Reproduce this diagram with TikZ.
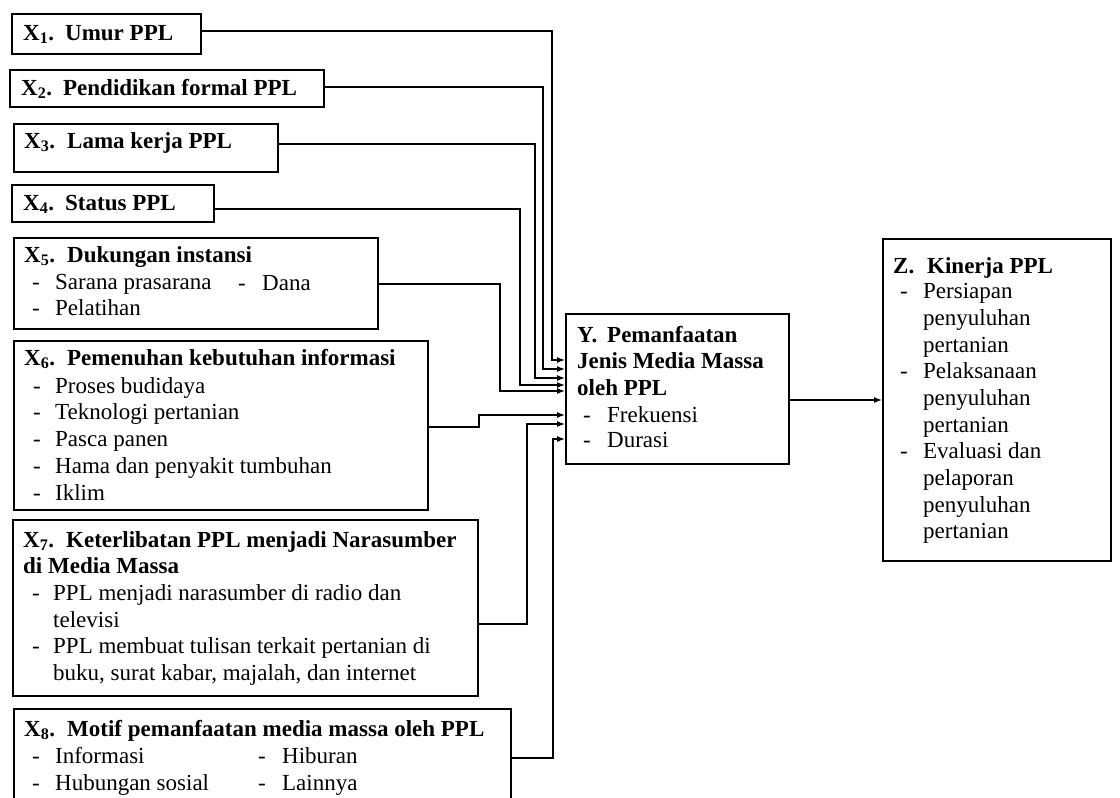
\documentclass[tikz,border=0pt]{standalone}
\usepackage{fontspec}
\setmainfont{Liberation Serif}
\usetikzlibrary{arrows.meta}
\tikzset{
  box/.style={draw, line width=1.6pt, inner sep=0pt, anchor=north west},
  conn/.style={line width=1.3pt, -{Latex[length=8pt,width=6pt]}},
  txt/.style={anchor=base west, inner sep=0pt, font=\fontsize{23}{27}\selectfont},
  txtb/.style={txt, font=\fontsize{23}{27}\selectfont\bfseries},
}
\newcommand{\ttl}[5]{\node[txtb] (#1) at (#2,#3) {\makebox[#4pt][l]{#5}};}
\newcommand{\boxline}[4]{\node[txt] (#1) at (#2,#3) {#4};}
\newcommand{\boldline}[4]{\node[txtb] (#1) at (#2,#3) {#4};}
\newcommand{\itemline}[5]{\node[txt] (#1) at (#2,#3) {\makebox[#4pt][l]{-}#5};}
\begin{document}
\begin{tikzpicture}[x=1pt,y=-1pt]
\useasboundingbox (0,0) rectangle (1120,798);
\clip (0,0) rectangle (1120,798);

% boxes
\node[box, minimum width=189pt, minimum height=40pt] (x1) at (11,13) {};
\node[box, minimum width=314pt, minimum height=37pt] (x2) at (9,69) {};
\node[box, minimum width=264pt, minimum height=48pt] (x3) at (13,123) {};
\node[box, minimum width=202pt, minimum height=37pt] (x4) at (11,184) {};
\node[box, minimum width=364pt, minimum height=91pt] (x5) at (13,237) {};
\node[box, minimum width=414pt, minimum height=169pt] (x6) at (13,340) {};
\node[box, minimum width=465pt, minimum height=176pt] (x7) at (12,519) {};
\node[box, minimum width=497pt, minimum height=130pt] (x8) at (13,708) {};
\node[box, minimum width=223pt, minimum height=150pt] (y) at (565,313) {};
\node[box, minimum width=228pt, minimum height=322pt] (z) at (882,238) {};

% X1 - X4
\node[txtb] (t1) at (23,40) {\makebox[42pt][l]{X\textsubscript{1}.}Umur PPL};
\node[txtb] (t2) at (21,95) {\makebox[42pt][l]{X\textsubscript{2}.}Pendidikan formal PPL};
\node[txtb] (t3) at (24,148) {\makebox[43pt][l]{X\textsubscript{3}.}Lama kerja PPL};
\node[txtb] (t4) at (23,210) {\makebox[42pt][l]{X\textsubscript{4}.}Status PPL};

% X5
\node[txtb] (t5) at (24,262) {\makebox[43pt][l]{X\textsubscript{5}.}Dukungan instansi};
\itemline{t5a}{32}{289}{23}{Sarana prasarana}
\itemline{t5b}{238}{290}{24}{Dana}
\itemline{t5c}{32}{315}{23}{Pelatihan}

% X6
\node[txtb] (t6) at (24,365) {\makebox[43pt][l]{X\textsubscript{6}.}Pemenuhan kebutuhan informasi};
\itemline{t6a}{33}{393}{22}{Proses budidaya}
\itemline{t6b}{33}{419}{22}{Teknologi pertanian}
\itemline{t6c}{33}{446}{22}{Pasca panen}
\itemline{t6d}{33}{473}{22}{Hama dan penyakit tumbuhan}
\itemline{t6e}{33}{500}{22}{Iklim}

% X7
\node[txtb] (t7) at (23,547) {\makebox[43pt][l]{X\textsubscript{7}.}Keterlibatan PPL menjadi Narasumber};
\boldline{t7b}{23}{573}{di Media Massa}
\itemline{t7c}{32}{600}{21}{PPL menjadi narasumber di radio dan}
\boxline{t7d}{53}{627}{televisi}
\itemline{t7e}{32}{653}{21}{PPL membuat tulisan terkait pertanian di}
\boxline{t7f}{53}{680}{buku, surat kabar, majalah, dan internet}

% X8
\node[txtb] (t8) at (24,736) {\makebox[43pt][l]{X\textsubscript{8}.}Motif pemanfaatan media massa oleh PPL};
\itemline{t8a}{32}{763}{23}{Informasi}
\itemline{t8b}{258}{763}{24}{Hiburan}
\itemline{t8c}{32}{790}{23}{Hubungan sosial}
\itemline{t8d}{258}{790}{24}{Lainnya}

% Y
\node[txtb] (ty) at (577,342) {\makebox[30pt][l]{Y.}Pemanfaatan};
\boldline{tyb}{577}{368}{Jenis Media Massa}
\boldline{tyc}{577}{395}{oleh PPL}
\itemline{tyd}{583}{422}{24}{Frekuensi}
\itemline{tye}{583}{447}{24}{Durasi}

% Z
\node[txtb] (tz) at (893,273) {\makebox[34pt][l]{Z.}Kinerja PPL};
\itemline{tza}{900}{298}{23}{Persiapan}
\boxline{tzb}{923}{325}{penyuluhan}
\boxline{tzc}{923}{352}{pertanian}
\itemline{tzd}{900}{378}{23}{Pelaksanaan}
\boxline{tze}{923}{405}{penyuluhan}
\boxline{tzf}{923}{432}{pertanian}
\itemline{tzg}{900}{458}{23}{Evaluasi dan}
\boxline{tzh}{923}{485}{pelaporan}
\boxline{tzi}{923}{512}{penyuluhan}
\boxline{tzj}{923}{538}{pertanian}

% junction points
\coordinate (j1) at (552,360);
\coordinate (j2) at (543,369);
\coordinate (j3) at (535,378);
\coordinate (j4) at (520,385);
\coordinate (j5) at (500,391);
\coordinate (j6a) at (479,427);
\coordinate (j6b) at (479,415);
\coordinate (j7a) at (527,624);
\coordinate (j7b) at (527,424);
\coordinate (j8a) at (553,758);
\coordinate (j8b) at (553,439);

% connectors
\draw[conn] (x1.east |- 0,31) -| (j1) -- (j1 -| y.west);
\draw[conn] (x2.east |- 0,87) -| (j2) -- (j2 -| y.west);
\draw[conn] (x3.east |- 0,144) -| (j3) -- (j3 -| y.west);
\draw[conn] (x4.east |- 0,209) -| (j4) -- (j4 -| y.west);
\draw[conn] (x5.east |- 0,284) -| (j5) -- (j5 -| y.west);
\draw[conn] (x6.east |- j6a) -- (j6a) -- (j6b) -- (j6b -| y.west);
\draw[conn] (x7.east |- j7a) -- (j7a) -- (j7b) -- (j7b -| y.west);
\draw[conn] (x8.east |- j8a) -- (j8a) -- (j8b) -- (j8b -| y.west);
\draw[conn] (y.east |- 0,400) -- (z.west |- 0,400);
\end{tikzpicture}
\end{document}
